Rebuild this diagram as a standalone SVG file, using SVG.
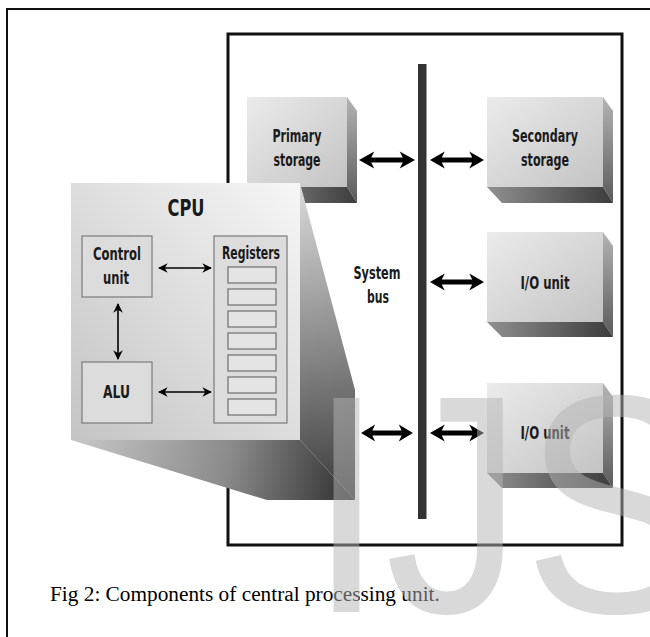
<svg xmlns="http://www.w3.org/2000/svg" xmlns:xlink="http://www.w3.org/1999/xlink" width="650" height="637" viewBox="0 0 650 637">
  <style>
    .lbl { font-family: "Liberation Sans Narrow", "DejaVu Sans Condensed", "Liberation Sans", sans-serif; font-weight: bold; font-size: 17px; fill: #1a1a1a; text-anchor: middle; }
    .cap { font-family: "Liberation Serif", "Times New Roman", serif; font-size: 21.3px; fill: #000; }
    .frame { fill: none; stroke: #111; }
    .front { fill: url(#gFront); }
    .side { fill: url(#gSide); }
    .bottom { fill: url(#gBottom); }
    .inner { fill: #dcdcdc; stroke: #7a7a7a; stroke-width: 1.2; }
    .cell { fill: #e4e4e4; stroke: #6e6e6e; stroke-width: 1.2; }
    .thin { stroke: #000; stroke-width: 1.6; fill: none; marker-start: url(#headS); marker-end: url(#headS); }
    .bus { fill: #000; }
  </style>
  <defs>
    <linearGradient id="gFront" x1="0" y1="0" x2="1" y2="1">
      <stop offset="0" stop-color="#ebebeb"/>
      <stop offset="1" stop-color="#c3c3c3"/>
    </linearGradient>
    <linearGradient id="gSide" x1="0" y1="0" x2="0" y2="1">
      <stop offset="0" stop-color="#b4b4b4"/>
      <stop offset="1" stop-color="#5a5a5a"/>
    </linearGradient>
    <linearGradient id="gBottom" x1="0" y1="0" x2="1" y2="0">
      <stop offset="0" stop-color="#909090"/>
      <stop offset="1" stop-color="#3c3c3c"/>
    </linearGradient>
    <linearGradient id="gCpuFront" x1="1" y1="0" x2="0" y2="1">
      <stop offset="0" stop-color="#f6f6f6"/>
      <stop offset="1" stop-color="#c4c4c4"/>
    </linearGradient>
    <linearGradient id="gCpuSide" gradientUnits="userSpaceOnUse" x1="300" y1="190" x2="355" y2="500">
      <stop offset="0" stop-color="#d8d8d8"/>
      <stop offset="0.6" stop-color="#7a7a7a"/>
      <stop offset="1" stop-color="#3a3a3a"/>
    </linearGradient>
    <linearGradient id="gCpuBottom" gradientUnits="userSpaceOnUse" x1="71" y1="440" x2="355" y2="500">
      <stop offset="0" stop-color="#c8c8c8"/>
      <stop offset="0.55" stop-color="#8a8a8a"/>
      <stop offset="1" stop-color="#2e2e2e"/>
    </linearGradient>
    <marker id="headS" viewBox="0 0 10 10" refX="9" refY="5" markerWidth="6" markerHeight="6" markerUnits="strokeWidth" orient="auto-start-reverse">
      <path d="M0,0 L10,5 L0,10 L3,5 z" fill="#000"/>
    </marker>
    <!-- bold double-headed bus arrow, 55 px long, centred vertically on y=0 -->
    <path id="busArrow" d="M0,0 L15,-8.5 L12,-2.5 L43,-2.5 L40,-8.5 L55,0 L40,8.5 L43,2.5 L12,2.5 L15,8.5 Z"/>
  </defs>

  <rect width="650" height="637" fill="#fff"/>

  <!-- page frame (left and top rules) -->
  <path class="frame" d="M7,637 V9 H650" stroke-width="2"/>

  <!-- computer enclosure -->
  <rect class="frame" x="228" y="34" width="394" height="511" stroke-width="3"/>

  <!-- system bus -->
  <g id="system-bus">
    <rect x="418" y="64" width="8.5" height="455" fill="#333"/>
    <text class="lbl" x="377" y="279" textLength="47" lengthAdjust="spacingAndGlyphs">System</text>
    <text class="lbl" x="378" y="303" textLength="22" lengthAdjust="spacingAndGlyphs">bus</text>
  </g>

  <g id="primary-storage">
    <polygon class="side" points="347,97 357,111 357,203 347,187"/>
    <polygon class="bottom" points="247,187 347,187 357,203 262,203"/>
    <rect class="front" x="247" y="97" width="100" height="90"/>
    <text class="lbl" x="297" y="142" textLength="49" lengthAdjust="spacingAndGlyphs">Primary</text>
    <text class="lbl" x="297" y="166" textLength="47" lengthAdjust="spacingAndGlyphs">storage</text>
  </g>

  <g id="secondary-storage">
    <polygon class="side" points="603,97 613,111 613,203 603,187"/>
    <polygon class="bottom" points="487,187 603,187 613,203 502,203"/>
    <rect class="front" x="487" y="97" width="116" height="90"/>
    <text class="lbl" x="545" y="142" textLength="66" lengthAdjust="spacingAndGlyphs">Secondary</text>
    <text class="lbl" x="545" y="166" textLength="48" lengthAdjust="spacingAndGlyphs">storage</text>
  </g>

  <g id="io-unit-1">
    <polygon class="side" points="603,232 613,246 613,337 603,322"/>
    <polygon class="bottom" points="487,322 603,322 613,337 502,337"/>
    <rect class="front" x="487" y="232" width="116" height="90"/>
    <text class="lbl" x="545" y="289" textLength="49" lengthAdjust="spacingAndGlyphs">I/O unit</text>
  </g>

  <g id="io-unit-2">
    <polygon class="side" points="603,383 613,397 613,488 603,473"/>
    <polygon class="bottom" points="487,473 603,473 613,488 502,488"/>
    <rect class="front" x="487" y="383" width="116" height="90"/>
    <text class="lbl" x="545" y="439" textLength="49" lengthAdjust="spacingAndGlyphs">I/O unit</text>
  </g>

  <g id="cpu">
    <polygon points="300,183 304,198 355,390 355,500 300,440" fill="url(#gCpuSide)"/>
    <polygon points="71,440 300,440 355,500 267,500" fill="url(#gCpuBottom)"/>
    <rect x="71" y="183" width="229" height="257" fill="url(#gCpuFront)"/>
    <text class="lbl" x="186" y="216" style="font-size:23px" textLength="37" lengthAdjust="spacingAndGlyphs">CPU</text>

    <g id="control-unit">
      <rect class="inner" x="82" y="236" width="70" height="61"/>
      <text class="lbl" x="117" y="260" textLength="48" lengthAdjust="spacingAndGlyphs">Control</text>
      <text class="lbl" x="116" y="284" textLength="26" lengthAdjust="spacingAndGlyphs">unit</text>
    </g>

    <g id="alu">
      <rect class="inner" x="82" y="362" width="70" height="61"/>
      <text class="lbl" x="116.5" y="398" textLength="27" lengthAdjust="spacingAndGlyphs">ALU</text>
    </g>

    <g id="registers">
      <rect class="inner" x="214" y="236" width="73" height="187"/>
      <text class="lbl" x="251" y="259" textLength="58" lengthAdjust="spacingAndGlyphs">Registers</text>
      <rect class="cell" x="228" y="267" width="48" height="16"/>
      <rect class="cell" x="228" y="289" width="48" height="16"/>
      <rect class="cell" x="228" y="311" width="48" height="16"/>
      <rect class="cell" x="228" y="333" width="48" height="16"/>
      <rect class="cell" x="228" y="355" width="48" height="16"/>
      <rect class="cell" x="228" y="377" width="48" height="16"/>
      <rect class="cell" x="228" y="399" width="48" height="16"/>
    </g>
  </g>

  <!-- connectors -->
  <g id="connectors">
    <line class="thin" x1="159" y1="268" x2="211" y2="268"/>
    <line class="thin" x1="159" y1="392" x2="211" y2="392"/>
    <line class="thin" x1="118" y1="304" x2="118" y2="359"/>
    <use xlink:href="#busArrow" class="bus" transform="translate(359,160) scale(1.018,1)"/>
    <use xlink:href="#busArrow" class="bus" transform="translate(430,160) scale(0.982,1)"/>
    <use xlink:href="#busArrow" class="bus" transform="translate(430,282) scale(0.982,1)"/>
    <use xlink:href="#busArrow" class="bus" transform="translate(361,433) scale(0.945,1)"/>
    <use xlink:href="#busArrow" class="bus" transform="translate(430,433) scale(0.982,1)"/>
  </g>

  <text class="cap" x="50" y="601">Fig 2: Components of central processing unit.</text>

  <!-- faint publisher mark -->
  <text transform="translate(308,612) scale(0.89,1)" x="0" y="0" font-family="Liberation Sans, Arial, sans-serif" font-size="311" fill="#b4b4b4" fill-opacity="0.5">IJS</text>
</svg>
